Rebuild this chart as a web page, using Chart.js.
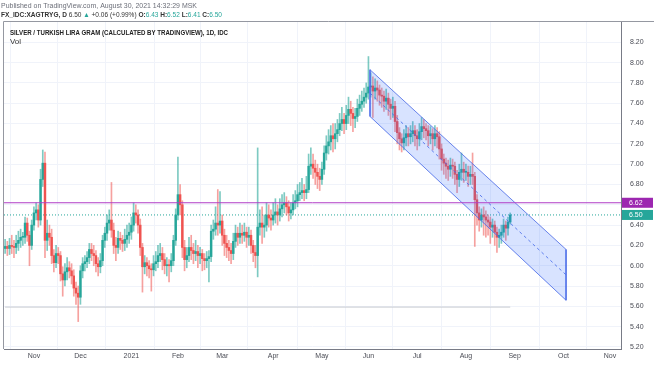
<!DOCTYPE html>
<html>
<head>
<meta charset="utf-8">
<script src="https://cdn.jsdelivr.net/npm/chart.js@4.4.0/dist/chart.umd.min.js"></script>
<style>
  html, body { margin: 0; padding: 0; background: #fff; }
  #wrap { position: relative; width: 654px; height: 366px; }
</style>
</head>
<body>
<div id="wrap"><canvas id="grafico" width="654" height="366"></canvas></div>
<script>
// daily candles, index = trading day counted from 14 Oct 2020
const opens = [
  6.17,6.19,6.17,6.20,6.19,6.18,6.22,6.25,6.28,6.28,
  6.42,6.30,6.20,6.40,6.52,6.55,6.45,6.85,7.01,6.25,
  6.32,6.28,6.10,6.03,6.12,6.10,5.92,5.86,5.94,5.98,
  5.95,5.90,5.78,5.73,5.69,5.95,6.02,6.04,6.08,6.16,
  6.12,6.10,6.02,5.99,6.05,6.25,6.32,6.42,6.45,6.35,
  6.20,6.18,6.27,6.25,6.22,6.26,6.30,6.33,6.40,6.52,
  6.50,6.40,6.18,5.99,6.03,6.00,5.97,5.96,6.02,6.04,
  6.10,6.12,6.06,6.00,6.01,6.00,6.05,6.25,6.50,6.70,
  6.60,6.18,6.06,6.10,6.18,6.15,6.12,6.14,6.10,6.12,
  6.07,6.05,6.07,6.09,6.34,6.36,6.42,6.40,6.44,6.30,
  6.22,6.18,6.15,6.12,6.24,6.32,6.28,6.32,6.30,6.33,
  6.28,6.30,6.20,6.13,6.10,6.38,6.42,6.38,6.40,6.50,
  6.47,6.45,6.50,6.53,6.50,6.56,6.60,6.62,6.58,6.52,
  6.55,6.62,6.64,6.70,6.72,6.74,6.72,6.75,6.98,7.00,
  6.96,6.92,6.88,6.85,6.95,7.11,7.18,7.22,7.28,7.25,
  7.30,7.34,7.40,7.44,7.40,7.48,7.54,7.50,7.45,7.47,
  7.55,7.59,7.62,7.66,7.70,7.76,7.77,7.72,7.75,7.73,
  7.68,7.67,7.62,7.65,7.59,7.55,7.57,7.42,7.31,7.25,
  7.21,7.26,7.30,7.27,7.30,7.33,7.28,7.25,7.32,7.37,
  7.35,7.33,7.28,7.30,7.25,7.30,7.27,7.15,7.05,7.01,
  6.98,6.95,6.99,6.98,6.90,6.85,6.92,6.95,6.92,6.92,
  6.88,6.90,6.88,6.65,6.52,6.45,6.50,6.48,6.45,6.43,
  6.38,6.40,6.33,6.28,6.30,6.33,6.40,6.37,6.43
];
const highs = [
  6.26,6.24,6.27,6.30,6.25,6.30,6.34,6.36,6.33,6.48,
  6.47,6.34,6.45,6.58,6.62,6.60,6.95,7.14,7.12,6.45,
  6.40,6.36,6.16,6.20,6.18,6.14,5.99,6.02,6.08,6.04,
  6.02,5.96,5.84,5.80,6.00,6.08,6.10,6.14,6.22,6.22,
  6.20,6.15,6.08,6.12,6.30,6.38,6.50,6.55,6.82,6.42,
  6.28,6.34,6.33,6.30,6.36,6.40,6.42,6.48,6.62,6.60,
  6.55,6.46,6.22,6.10,6.08,6.05,6.02,6.10,6.14,6.20,
  6.22,6.18,6.12,6.08,6.06,6.12,6.30,6.56,7.07,6.80,
  6.64,6.25,6.18,6.28,6.30,6.22,6.25,6.20,6.18,6.16,
  6.12,6.14,6.15,6.40,6.45,6.58,6.75,6.73,6.50,6.36,
  6.30,6.25,6.22,6.32,6.40,6.38,6.42,6.40,6.42,6.38,
  6.38,6.35,6.25,6.20,7.16,6.55,6.58,6.50,6.62,6.60,
  6.55,6.62,6.66,6.60,6.66,6.70,6.72,6.68,6.64,6.62,
  6.70,6.74,6.80,6.82,6.86,6.80,6.88,7.10,7.16,7.10,
  7.04,7.00,6.96,7.02,7.18,7.28,7.34,7.38,7.40,7.40,
  7.44,7.50,7.56,7.50,7.58,7.66,7.62,7.56,7.55,7.64,
  7.68,7.72,7.75,7.80,8.06,7.90,7.86,7.84,7.82,7.78,
  7.75,7.72,7.74,7.70,7.64,7.66,7.62,7.48,7.36,7.30,
  7.34,7.38,7.36,7.38,7.42,7.38,7.34,7.40,7.46,7.44,
  7.40,7.38,7.37,7.35,7.38,7.36,7.32,7.20,7.10,7.06,
  7.04,7.06,7.05,7.02,6.94,7.00,7.11,7.02,7.00,6.98,
  6.98,7.11,6.92,6.70,6.58,6.56,6.58,6.54,6.50,6.48,
  6.46,6.44,6.38,6.36,6.40,6.46,6.44,6.48,6.52
];
const lows = [
  6.12,6.10,6.11,6.12,6.08,6.12,6.15,6.18,6.20,6.22,
  6.24,6.00,6.16,6.35,6.45,6.38,6.40,6.78,6.08,6.15,
  6.20,6.02,5.94,5.98,6.02,5.85,5.70,5.80,5.86,5.88,
  5.82,5.70,5.62,5.45,5.62,5.88,5.95,5.98,6.02,6.05,
  6.00,5.94,5.90,5.93,6.00,6.18,6.25,6.35,6.28,6.12,
  6.05,6.12,6.16,6.14,6.15,6.18,6.22,6.26,6.34,6.42,
  6.32,6.10,5.74,5.92,5.90,5.88,5.75,5.90,5.95,5.98,
  6.04,5.96,5.92,5.90,5.84,5.94,6.00,6.20,6.45,6.50,
  6.08,5.95,5.98,6.04,6.06,6.02,6.05,5.98,6.02,5.95,
  5.96,5.98,5.84,6.04,6.26,6.30,6.30,6.32,6.20,6.10,
  6.08,6.05,6.02,6.06,6.18,6.20,6.22,6.22,6.24,6.18,
  6.20,6.12,6.04,5.98,5.89,6.30,6.22,6.28,6.34,6.38,
  6.35,6.40,6.42,6.40,6.44,6.48,6.52,6.50,6.44,6.46,
  6.50,6.56,6.58,6.64,6.66,6.64,6.66,6.72,6.90,6.86,
  6.80,6.76,6.74,6.80,6.90,7.04,7.10,7.14,7.12,7.15,
  7.22,7.28,7.33,7.30,7.34,7.40,7.38,7.32,7.36,7.42,
  7.48,7.52,7.56,7.60,7.64,7.66,7.46,7.64,7.62,7.58,
  7.56,7.52,7.54,7.48,7.44,7.46,7.32,7.20,7.14,7.12,
  7.14,7.18,7.18,7.20,7.22,7.18,7.14,7.18,7.24,7.26,
  7.24,7.18,7.20,7.14,7.18,7.16,7.05,6.94,6.90,6.86,
  6.84,6.88,6.86,6.80,6.72,6.78,6.84,6.82,6.84,6.78,
  6.80,6.80,6.19,6.40,6.34,6.38,6.30,6.28,6.30,6.22,
  6.28,6.20,6.13,6.18,6.22,6.28,6.25,6.30,6.41
];
const closes = [
  6.19,6.17,6.20,6.19,6.18,6.22,6.25,6.28,6.28,6.42,
  6.30,6.20,6.40,6.52,6.55,6.45,6.85,7.01,6.25,6.32,
  6.28,6.10,6.03,6.12,6.10,5.92,5.86,5.94,5.98,5.95,
  5.90,5.78,5.73,5.69,5.95,6.02,6.04,6.08,6.16,6.12,
  6.10,6.02,5.99,6.05,6.25,6.32,6.42,6.45,6.35,6.20,
  6.18,6.27,6.25,6.22,6.26,6.30,6.33,6.40,6.52,6.50,
  6.40,6.18,5.99,6.03,6.00,5.97,5.96,6.02,6.04,6.10,
  6.12,6.06,6.00,6.01,6.00,6.05,6.25,6.50,6.70,6.60,
  6.18,6.06,6.10,6.18,6.15,6.12,6.14,6.10,6.12,6.07,
  6.05,6.07,6.09,6.34,6.36,6.42,6.40,6.44,6.30,6.22,
  6.18,6.15,6.12,6.24,6.32,6.28,6.32,6.30,6.33,6.28,
  6.30,6.20,6.13,6.10,6.38,6.42,6.38,6.40,6.50,6.47,
  6.45,6.50,6.53,6.50,6.56,6.60,6.62,6.58,6.52,6.55,
  6.62,6.64,6.70,6.72,6.74,6.72,6.75,6.98,7.00,6.96,
  6.92,6.88,6.85,6.95,7.11,7.18,7.22,7.28,7.25,7.30,
  7.34,7.40,7.44,7.40,7.48,7.54,7.50,7.45,7.47,7.55,
  7.59,7.62,7.66,7.70,7.76,7.77,7.72,7.75,7.73,7.68,
  7.67,7.62,7.65,7.59,7.55,7.57,7.42,7.31,7.25,7.21,
  7.26,7.30,7.27,7.30,7.33,7.28,7.25,7.32,7.37,7.35,
  7.33,7.28,7.30,7.25,7.30,7.27,7.15,7.05,7.01,6.98,
  6.95,6.99,6.98,6.90,6.85,6.92,6.95,6.92,6.92,6.88,
  6.90,6.88,6.65,6.52,6.45,6.50,6.48,6.45,6.43,6.38,
  6.40,6.33,6.28,6.30,6.33,6.40,6.37,6.43,6.50
];

// eje de tiempo (índice de día hábil donde empieza cada mes)
const monthIdx = [13, 34, 57, 78, 98, 121, 143, 164, 186, 208, 230, 252, 273];
const monthLabels = ["Nov", "Dec", "2021", "Feb", "Mar", "Apr", "May", "Jun", "Jul", "Aug", "Sep", "Oct", "Nov"];
const priceTicks = [5.2, 5.4, 5.6, 5.8, 6.0, 6.2, 6.4, 6.6, 6.8, 7.0, 7.2, 7.4, 7.6, 7.8, 8.0, 8.2];

// volumen (IDC no publica volumen)
const volX = [0, 228];
const volume = [0, 0];

// canal de regresión dibujado
const channelX = [164.7, 253.2];
const channelUpper = [7.93, 6.16];
const channelLower = [7.47, 5.66];
const channelMid = [7.70, 5.91];

// líneas horizontales
const fullX = [-0.5, 278];
const levelLine = 6.62;
const lastPrice = 6.50;

const UP = "#26a69a";
const DOWN = "#ef5350";
const CH = "rgba(80,110,230,0.85)";
const VIOLETA = "#b03cc6";

const isUp = (i) => closes[i] >= opens[i];

const marcos = {
  id: "marcos",
  afterDraw(chart) {
    const { ctx, chartArea: a, scales } = chart;
    const y = scales.y;
    ctx.save();
    // marco
    ctx.strokeStyle = "#9598a1";
    ctx.lineWidth = 1;
    ctx.beginPath();
    ctx.moveTo(a.left - 0.5, a.bottom); ctx.lineTo(a.left - 0.5, a.top - 0.5); ctx.lineTo(654, a.top - 0.5);
    ctx.stroke();

    // etiquetas de precio
    const tag = (v, color) => {
      const py = y.getPixelForValue(v);
      ctx.fillStyle = color;
      ctx.fillRect(a.right + 1, py - 5, 31, 10);
      ctx.fillStyle = "#fff";
      ctx.font = '7px "Liberation Sans", "DejaVu Sans"';
      ctx.textBaseline = "middle";
      ctx.textAlign = "left";
      ctx.fillText(v.toFixed(2), a.right + 8, py + 0.5);
    };
    tag(levelLine, "#9c27b0");
    tag(lastPrice, UP);

    // textos
    const runs = (parts, x, yy, width) => {
      let total = 0;
      parts.forEach((p) => { ctx.font = p.f; total += ctx.measureText(p.t).width; });
      ctx.save();
      ctx.translate(x, yy);
      ctx.scale(width / total, 1);
      ctx.textBaseline = "middle";
      ctx.textAlign = "left";
      let cx = 0;
      parts.forEach((p) => {
        ctx.font = p.f; ctx.fillStyle = p.c; ctx.fillText(p.t, cx, 0);
        cx += ctx.measureText(p.t).width;
      });
      ctx.restore();
    };
    const R = '7px "Liberation Sans", "DejaVu Sans"';
    const B = 'bold 7px "Liberation Sans", "DejaVu Sans"';
    runs([{ t: "Published on TradingView.com, August 30, 2021 14:32:29 MSK", f: R, c: "#6b6e78" }], 1, 6, 196);
    runs([
      { t: "FX_IDC:XAGTRYG, D ", f: B, c: "#333" },
      { t: "6.50 ", f: R, c: "#333" },
      { t: "\u25B2", f: R, c: UP },
      { t: " +0.06 (+0.99%) ", f: R, c: "#333" },
      { t: "O:", f: B, c: "#333" }, { t: "6.43", f: R, c: UP },
      { t: " H:", f: B, c: "#333" }, { t: "6.52", f: R, c: UP },
      { t: " L:", f: B, c: "#333" }, { t: "6.41", f: R, c: UP },
      { t: " C:", f: B, c: "#333" }, { t: "6.50", f: R, c: UP }
    ], 1, 15.5, 221);
    runs([{ t: "SILVER / TURKISH LIRA GRAM (CALCULATED BY TRADINGVIEW), 1D, IDC", f: B, c: "#222" }], 10, 33, 218);
    runs([{ t: "Vol", f: R, c: "#333" }], 10, 42.5, 11);
    ctx.restore();
  }
};

const line = (xs, ys, extra) => Object.assign({
  type: "line",
  data: xs.map((x, i) => ({ x, y: ys[i] })),
  borderColor: CH,
  borderWidth: 1,
  pointRadius: 0,
  fill: false,
  order: 0
}, extra);

new Chart(document.getElementById("grafico"), {
  type: "bar",
  data: {
    datasets: [
      line(fullX, [lastPrice, lastPrice], { borderColor: UP, borderDash: [1, 2], order: 5 }),
      {
        label: "wick",
        data: closes.map((c, i) => ({ x: i, y: [lows[i], highs[i]] })),
        backgroundColor: (c) => isUp(c.dataIndex) ? "rgba(38,166,154,0.6)" : "rgba(239,83,80,0.55)",
        barThickness: 1,
        grouped: false,
        order: 3
      },
      {
        label: "body",
        data: closes.map((c, i) => ({ x: i, y: [opens[i], c] })),
        backgroundColor: (c) => isUp(c.dataIndex) ? UP : DOWN,
        barThickness: 1.8,
        minBarLength: 1,
        grouped: false,
        order: 2
      },
      line(channelX, channelUpper, { fill: "+1", backgroundColor: "rgba(41,98,255,0.18)" }),
      line(channelX, channelLower),
      line(channelX, channelMid, { borderDash: [3, 3] }),
      line([channelX[0], channelX[0]], [channelUpper[0], channelLower[0]]),
      line([channelX[1], channelX[1]], [channelUpper[1], channelLower[1]]),
      line(fullX, [levelLine, levelLine], { borderColor: VIOLETA, order: -1 }),
      line(volX, volume, { yAxisID: "vol", borderColor: "#c9cbd1", order: 4 })
    ]
  },
  options: {
    responsive: false,
    animation: false,
    devicePixelRatio: 1,
    layout: { padding: { top: 22, left: 4, right: 0, bottom: 0 } },
    plugins: { legend: { display: false }, tooltip: { enabled: false } },
    scales: {
      x: {
        type: "linear",
        min: -0.5,
        max: 278,
        offset: false,
        afterBuildTicks: (s) => { s.ticks = monthIdx.map((v) => ({ value: v })); },
        afterFit: (s) => { s.height = 17; },
        ticks: {
          autoSkip: false,
          maxRotation: 0,
          padding: 3,
          color: "#4a4c55",
          font: { family: "Liberation Sans", size: 7 },
          callback: (v, i) => monthLabels[i]
        },
        grid: { color: "#f0f3fa", drawTicks: false },
        border: { color: "#787b86" }
      },
      y: {
        position: "right",
        min: 5.18,
        max: 8.4,
        afterBuildTicks: (s) => { s.ticks = priceTicks.map((v) => ({ value: v })); },
        afterFit: (s) => { s.width = 33; },
        ticks: {
          padding: 9,
          color: "#4a4c55",
          font: { family: "Liberation Sans", size: 7 },
          callback: (v) => Number(v).toFixed(2)
        },
        grid: { color: "#f0f3fa", drawTicks: false },
        border: { color: "#787b86" }
      },
      vol: { display: false, min: -0.147, max: 1 }
    }
  },
  plugins: [marcos]
});
</script>
</body>
</html>
